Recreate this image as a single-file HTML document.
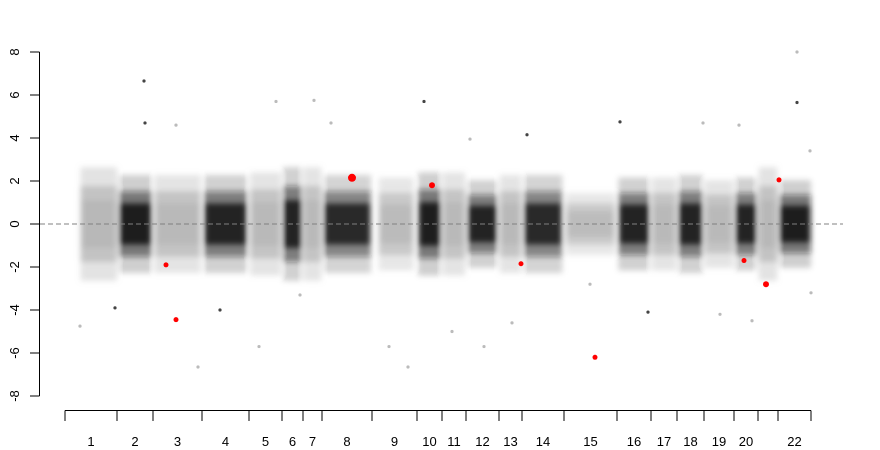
<!DOCTYPE html>
<html><head><meta charset="utf-8"><style>
body{margin:0;background:#fff}
svg{display:block;font-family:"Liberation Sans",sans-serif}
</style></head><body>
<svg id="chart" width="880" height="450" viewBox="0 0 880 450" xmlns="http://www.w3.org/2000/svg">
<defs><filter id="blur" x="-20%" y="-20%" width="140%" height="140%"><feGaussianBlur stdDeviation="3"/></filter></defs>
<g id="clouds" filter="url(#blur)"></g>
<g id="pts"></g>
<g id="axes"></g>
</svg>
<script>
const chrLabels=["1","2","3","4","5","6","7","8","9","10","11","12","13","14","15","16","17","18","19","20","","22"];
const chrLengths=[52,36,49,47,33,21,19,50,45,25,24,33,23,42,53,34,26,27,30,24,20,33];
const cloudStart=[0.3,0.05,0.04,0.04,0.04,0.04,0.04,0.03,0.15,0.04,0.04,0.04,0.04,0.04,0.04,0.04,0.04,0.04,0.04,0.04,0.04,0.03];
const cloudEnd=[1.0,0.97,0.97,0.96,0.96,0.96,0.96,0.98,0.92,0.96,0.96,0.95,0.96,0.96,0.96,0.96,0.96,0.96,0.96,0.96,0.96,1.0];
const coreSd=[1.1,0.95,0.95,0.95,1.0,1.1,1.1,0.95,0.9,1.0,1.0,0.85,0.95,0.95,0.6,0.9,0.9,0.95,0.85,0.9,1.1,0.85];
const density=[1,0.95,0.95,0.9,0.95,0.9,0.95,0.85,0.85,0.95,0.95,0.9,0.95,0.85,0.8,0.9,0.95,0.9,0.95,0.9,1,0.95];
const yTicks=[-8,-6,-4,-2,0,2,4,6,8];
const outPos=[79,211,249,359,732,732,343,133,194,15,80,111,266,462,405,555,638,674,387,419,447,583,525,155,50,687,746,324,235,745,655];
const outVal=[6.65,5.7,5.75,5.7,5.65,8,-6.65,-6.65,-5.7,-4.75,4.7,4.6,4.7,4.15,3.95,4.75,4.7,4.6,-5.0,-5.7,-4.6,-4.1,-2.8,-4.0,-3.9,-4.5,-3.2,-5.7,-3.3,3.4,-4.2];
const outDark=[1,0,0,1,1,0,0,0,0,0,1,0,0,1,0,1,0,0,0,0,0,1,0,1,1,0,0,0,0,0,0];
const redPos=[101,111,287,367,456,530,679,701,714];
const redVal=[-1.9,-4.45,2.15,1.8,-1.85,-6.2,-1.7,-2.8,2.05];
const redSize=[2.5,2.5,4,3,2.5,2.5,2.5,3,2.5];

const NS="http://www.w3.org/2000/svg";
const X0=65, X1=811;
const total=chrLengths.reduce((a,b)=>a+b,0);
const xs=p=>X0+(X1-X0)*p/total;
const ys=v=>224-21.5*v;
function mk(tag,attrs,parent){const e=document.createElementNS(NS,tag);for(const k in attrs)e.setAttribute(k,attrs[k]);parent.appendChild(e);return e;}
const clouds=document.getElementById('clouds'),pts=document.getElementById('pts'),axes=document.getElementById('axes');
let cum=0;const bounds=[0];
chrLengths.forEach(l=>{cum+=l;bounds.push(cum);});
chrLengths.forEach((l,i)=>{
  const a=xs(bounds[i]+l*cloudStart[i]), b=xs(bounds[i]+l*cloudEnd[i]);
  const dark=i%2===1;
  const col=dark?"#111":"#b8b8b8";
  const s=coreSd[i];
  const g=mk('g',{},clouds);
  
  
  const o=mk('rect',{x:a,y:ys(2.4*s),width:b-a,height:ys(-2.4*s)-ys(2.4*s),fill:col,opacity:(dark?0.2:0.4)*density[i]},g);
  
  
  const m=mk('rect',{x:a,y:ys(1.6*s),width:b-a,height:ys(-1.6*s)-ys(1.6*s),fill:col,opacity:(dark?0.5:0.75)*density[i]},g);
  
  
  const c=mk('rect',{x:a+1,y:ys(1.0*s),width:b-a-2,height:ys(-1.0*s)-ys(1.0*s),fill:col,opacity:(dark?0.9:1)*density[i]},g);
  
  
});
outPos.forEach((p,i)=>{
  const c=mk('circle',{cx:xs(p),cy:ys(outVal[i]),r:1.6,fill:outDark[i]?"#444":"#bbb"},pts);
  
  
});
redPos.forEach((p,i)=>{
  const c=mk('circle',{cx:xs(p),cy:ys(redVal[i]),r:redSize[i],fill:"#ff0000"},pts);
  
  
});
const zl=mk('line',{x1:40,x2:843,y1:ys(0),y2:ys(0),stroke:"#808080","stroke-dasharray":"5,3","stroke-width":1},axes);


const ya=mk('line',{x1:39.5,x2:39.5,y1:ys(8),y2:ys(-8),stroke:"#000"},axes);


yTicks.forEach(v=>{
  const t=mk('line',{x1:30,x2:39.5,y1:ys(v),y2:ys(v),stroke:"#000"},axes);
  
  
  const tx=mk('text',{x:0,y:0,"font-size":13,"text-anchor":"middle",fill:"#000",transform:`translate(19,${ys(v)}) rotate(-90)`},axes);
  tx.textContent=String(v);
  
  
});
const xa=mk('line',{x1:X0,x2:X1,y1:410.5,y2:410.5,stroke:"#000"},axes);


bounds.forEach(b=>{
  const t=mk('line',{x1:xs(b),x2:xs(b),y1:410.5,y2:421,stroke:"#000"},axes);
  
  
});
chrLabels.forEach((lab,i)=>{
  if(!lab)return;
  const tx=mk('text',{x:xs((bounds[i]+bounds[i+1])/2),y:446,"font-size":13,"text-anchor":"middle",fill:"#000"},axes);
  tx.textContent=lab;
  
  
});
</script>
</body></html>
